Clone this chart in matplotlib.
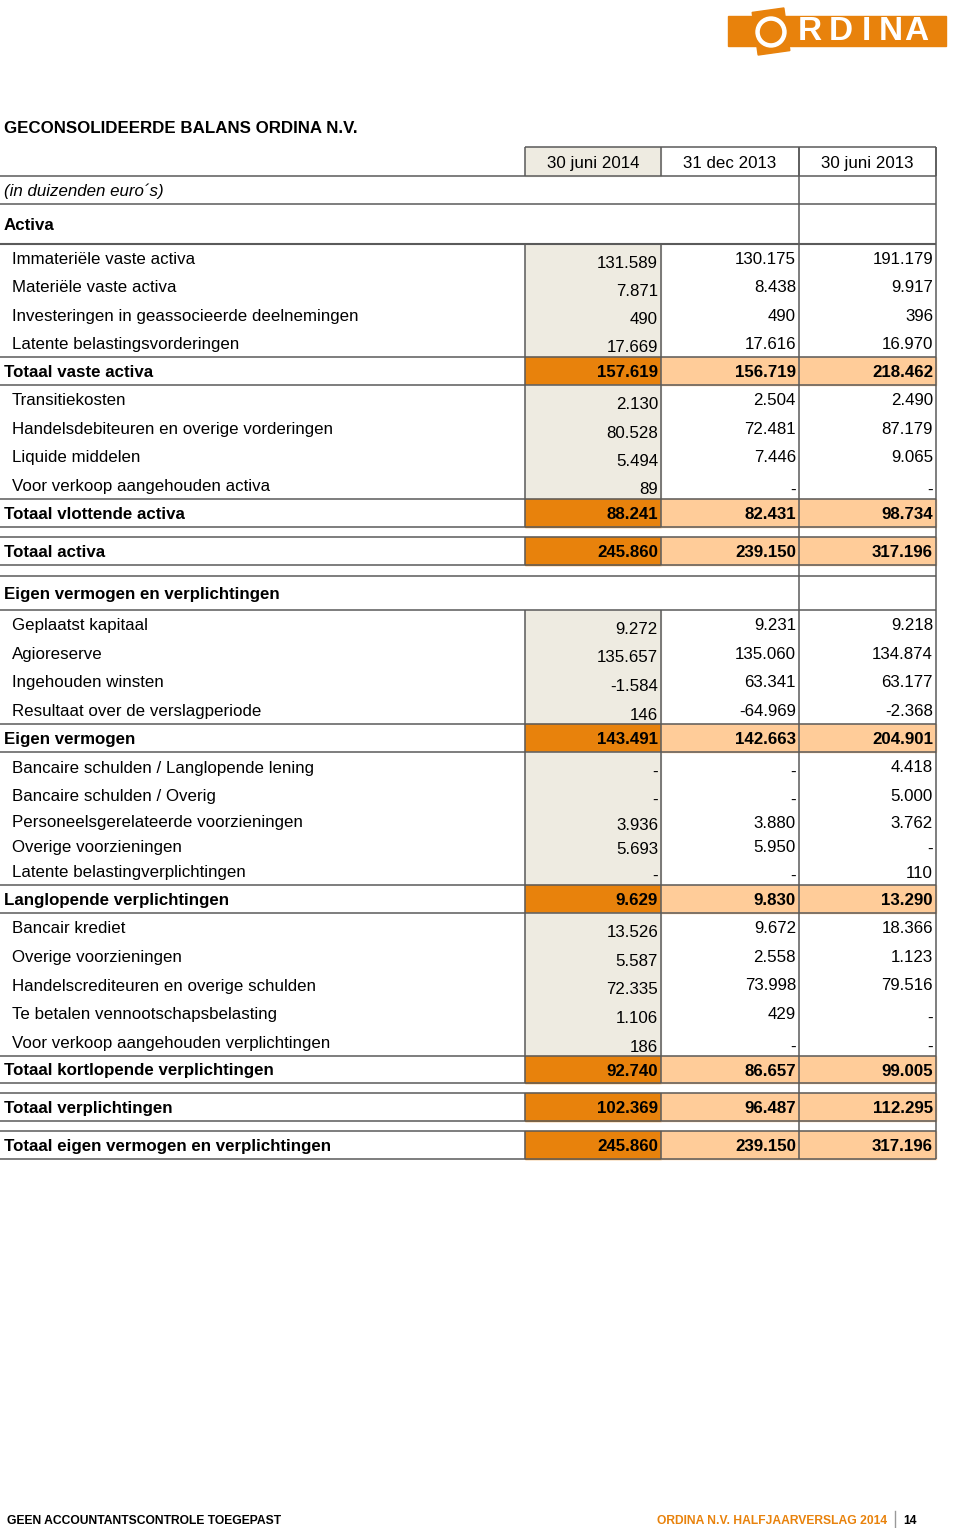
import matplotlib
matplotlib.use("Agg")
import matplotlib.pyplot as plt
from matplotlib.patches import Rectangle, Circle

plt.rcParams['font.family'] = ['Liberation Sans', 'DejaVu Sans']

# Kolomkoppen
col_headers = ["30 juni 2014", "31 dec 2013", "30 juni 2013"]

# Regels van de balans
row_labels = [
    "Immateriële vaste activa", "Materiële vaste activa",
    "Investeringen in geassocieerde deelnemingen", "Latente belastingsvorderingen",
    "Totaal vaste activa",
    "Transitiekosten", "Handelsdebiteuren en overige vorderingen", "Liquide middelen",
    "Voor verkoop aangehouden activa", "Totaal vlottende activa",
    "", "Totaal activa", "", "Eigen vermogen en verplichtingen",
    "Geplaatst kapitaal", "Agioreserve", "Ingehouden winsten",
    "Resultaat over de verslagperiode", "Eigen vermogen",
    "Bancaire schulden / Langlopende lening", "Bancaire schulden / Overig",
    "Personeelsgerelateerde voorzieningen", "Overige voorzieningen",
    "Latente belastingverplichtingen", "Langlopende verplichtingen",
    "Bancair krediet", "Overige voorzieningen", "Handelscrediteuren en overige schulden",
    "Te betalen vennootschapsbelasting", "Voor verkoop aangehouden verplichtingen",
    "Totaal kortlopende verplichtingen",
    "", "Totaal verplichtingen", "", "Totaal eigen vermogen en verplichtingen",
]
row_kinds = (['item'] * 4 + ['total'] + ['item'] * 4 + ['total']
             + ['gap', 'total', 'gap', 'section']
             + ['item'] * 4 + ['total'] + ['item'] * 5 + ['total']
             + ['item'] * 5 + ['total'] + ['gap', 'total', 'gap', 'total'])

# waarden in duizenden euro's, None = '-'
jun_2014 = [131589, 7871, 490, 17669, 157619, 2130, 80528, 5494, 89, 88241,
            None, 245860, None, None, 9272, 135657, -1584, 146, 143491,
            None, None, 3936, 5693, None, 9629, 13526, 5587, 72335, 1106, 186, 92740,
            None, 102369, None, 245860]
dec_2013 = [130175, 8438, 490, 17616, 156719, 2504, 72481, 7446, None, 82431,
            None, 239150, None, None, 9231, 135060, 63341, -64969, 142663,
            None, None, 3880, 5950, None, 9830, 9672, 2558, 73998, 429, None, 86657,
            None, 96487, None, 239150]
jun_2013 = [191179, 9917, 396, 16970, 218462, 2490, 87179, 9065, None, 98734,
            None, 317196, None, None, 9218, 134874, 63177, -2368, 204901,
            4418, 5000, 3762, None, 110, 13290, 18366, 1123, 79516, None, None, 99005,
            None, 112295, None, 317196]

# layout (pixels)
row_heights = ([28.25] * 4 + [28] + [28.5] * 4 + [28] + [10, 28, 11, 34]
               + [28.5] * 4 + [28] + [29, 28, 25, 24, 27] + [28]
               + [28.6] * 5 + [27] + [10, 28, 10, 28])
col_edges = [525, 661, 799, 936]
ORANGE = "#E8820C"
PEACH = "#FFCC99"
BEIGE = "#EEEBE1"
LINE = "#5a5a5a"
FS = 12.2
DY = 1.5  # kleine verschuiving omlaag voor de tekst


def fmt(v):
    if v is None:
        return "-"
    s = f"{abs(v):,}".replace(",", ".")
    return "-" + s if v < 0 else s


fig = plt.figure(figsize=(9.6, 15.28), dpi=100)
ax = fig.add_axes([0, 0, 1, 1])
ax.set_xlim(0, 960)
ax.set_ylim(1528, 0)
ax.axis('off')


def hline(y, x0=0, x1=936, lw=1.1):
    ax.plot([x0, x1], [y, y], color=LINE, lw=lw, zorder=3, solid_capstyle='butt')


def vline(x, y0, y1):
    ax.plot([x, x], [y0, y1], color=LINE, lw=1.1, zorder=3, solid_capstyle='butt')


# Logo
ax.add_patch(Rectangle((728, 16), 218, 30, color=ORANGE, zorder=1))
ax.add_patch(Rectangle((755, 10), 32, 43, angle=-8, rotation_point='center',
                       color=ORANGE, zorder=1))
ax.add_patch(Circle((771, 32), 15, color='white', zorder=2))
ax.add_patch(Circle((771, 32), 10.5, color=ORANGE, zorder=2))
for letter, lx in zip("RDINA", [810, 841, 866, 891, 916]):
    ax.text(lx, 32, letter, color='white', fontsize=24, ha='center', va='center',
            fontweight='bold', zorder=3)

# Titel
ax.text(4, 127 + DY, "GECONSOLIDEERDE BALANS ORDINA N.V.", fontsize=FS,
        fontweight='bold', va='center', ha='left')

# Kop
ax.add_patch(Rectangle((525, 147), 136, 29, color=BEIGE, zorder=1))
hline(147, 525, 936)
for i, h in enumerate(col_headers):
    ax.text((col_edges[i] + col_edges[i + 1]) / 2, 162 + DY, h, fontsize=FS,
            ha='center', va='center')
for x in col_edges:
    vline(x, 147, 176)
hline(176)
ax.text(4, 190 + DY, "(in duizenden euro´s)", fontsize=FS, fontstyle='italic',
        va='center')
hline(204)
ax.text(4, 224 + DY, "Activa", fontsize=FS, fontweight='bold', va='center')
hline(244, lw=1.5)

vline(799, 147, 1159)
vline(936, 147, 1159)

y = 244
for label, kind, h, a, b, c in zip(row_labels, row_kinds, row_heights,
                                   jun_2014, dec_2013, jun_2013):
    top, bot = y, y + h
    mid = (top + bot) / 2 + DY
    vals = [a, b, c]
    if kind == 'item':
        ax.add_patch(Rectangle((525, top), 136, h, color=BEIGE, zorder=1))
        ax.text(12, mid, label, fontsize=FS, va='center', ha='left')
        for i, v in enumerate(vals):
            yy = bot - 9 if (i == 0 or v is None) else mid
            ax.text(col_edges[i + 1] - 3, yy, fmt(v), fontsize=FS,
                    va='center', ha='right')
        vline(525, top, bot)
        vline(661, top, bot)
    elif kind == 'total':
        ax.add_patch(Rectangle((525, top), 136, h, color=ORANGE, zorder=1))
        ax.add_patch(Rectangle((661, top), 275, h, color=PEACH, zorder=1))
        ax.text(4, mid, label, fontsize=FS, fontweight='bold', va='center', ha='left')
        for i, v in enumerate(vals):
            ax.text(col_edges[i + 1] - 3, mid, fmt(v), fontsize=FS, fontweight='bold',
                    va='center', ha='right')
        hline(top)
        hline(bot)
        vline(525, top, bot)
        vline(661, top, bot)
    elif kind == 'section':
        ax.text(4, mid, label, fontsize=FS, fontweight='bold', va='center', ha='left')
        hline(top)
        hline(bot)
    y = bot

# Voettekst
ax.text(7, 1520.5, "GEEN ACCOUNTANTSCONTROLE TOEGEPAST", fontsize=8.7,
        fontweight='bold', va='center', ha='left')
ax.text(657, 1520.5, "ORDINA N.V. HALFJAARVERSLAG 2014", fontsize=8.7,
        fontweight='bold', color=ORANGE, va='center', ha='left')
ax.plot([895, 895], [1511, 1528], color="#999999", lw=1)
ax.text(903, 1520.5, "14", fontsize=8.7, fontweight='bold', va='center', ha='left')

fig.savefig("out.png", dpi=100)
